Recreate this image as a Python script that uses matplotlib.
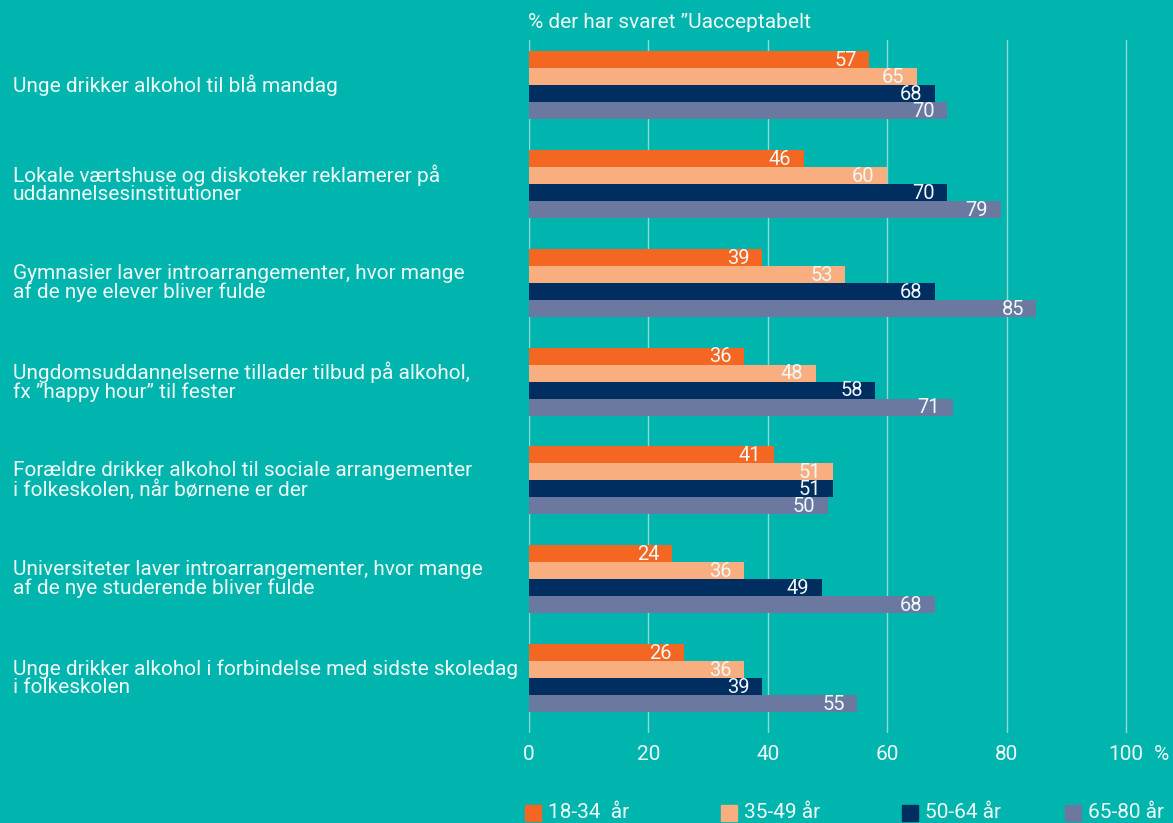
import matplotlib
matplotlib.use("Agg")
import matplotlib.pyplot as plt
import numpy as np
from matplotlib.patches import Rectangle
from matplotlib.transforms import blended_transform_factory

BG = "#00B5AD"
TXT = "#EEF8F7"
COLORS = ["#F46722", "#F9AE80", "#002E61", "#6B79A1"]

categories = [
    "Unge drikker alkohol til blå mandag",
    "Lokale værtshuse og diskoteker reklamerer på\nuddannelsesinstitutioner",
    "Gymnasier laver introarrangementer, hvor mange\naf de nye elever bliver fulde",
    "Ungdomsuddannelserne tillader tilbud på alkohol,\nfx ”happy hour” til fester",
    "Forældre drikker alkohol til sociale arrangementer\ni folkeskolen, når børnene er der",
    "Universiteter laver introarrangementer, hvor mange\naf de nye studerende bliver fulde",
    "Unge drikker alkohol i forbindelse med sidste skoledag\ni folkeskolen",
]
series = ["18-34  år", "35-49 år", "50-64 år", "65-80 år"]
v18_34 = [57, 46, 39, 36, 41, 24, 26]
v35_49 = [65, 60, 53, 48, 51, 36, 36]
v50_64 = [68, 70, 68, 58, 51, 49, 39]
v65_80 = [70, 79, 85, 71, 50, 68, 55]
values = [v18_34, v35_49, v50_64, v65_80]
ticks = [0, 20, 40, 60, 80, 100]

plt.rcParams["font.family"] = ["Roboto", "DejaVu Sans"]
FS = 15
FS_VAL = 14.5

W, H = 1173, 823
fig = plt.figure(figsize=(W / 100, H / 100), dpi=100, facecolor=BG)
# plot area: x=0 at 529 px, gridlines from 40 px to 733 px
ax = fig.add_axes([529 / W, 1 - 733 / H, (W - 529) / W, (733 - 40) / H])
ax.set_facecolor(BG)

h = 0.172
y = np.arange(len(categories))
for i, (name, vals) in enumerate(zip(series, values)):
    yy = y + (i - 1.5) * h
    ax.barh(yy, vals, height=h, color=COLORS[i], zorder=3)
    for yv, v in zip(yy, vals):
        ax.annotate(f"{v}", (v, yv), xytext=(-9, -0.5), textcoords="offset points",
                    ha="right", va="center", color=TXT, fontsize=FS_VAL, zorder=4)

ax.set_xlim(0, (W - 529) / 5.97)
ax.set_ylim(6.557, -0.46)
ax.set_xticks(ticks)
ax.set_xticklabels([str(t) for t in ticks], color=TXT, fontsize=FS)
ax.tick_params(axis="x", length=0, pad=9)
ax.set_yticks([])
ax.grid(axis="x", color="#8ED9D4", linewidth=1.0, zorder=0)
for s in ax.spines.values():
    s.set_visible(False)

# unit after the last tick
ax.annotate("%", (106, 0), xycoords=blended_transform_factory(ax.transData, ax.transAxes),
            xytext=(0, -9), textcoords="offset points", ha="center", va="top",
            color=TXT, fontsize=FS)

tr = blended_transform_factory(fig.transFigure, ax.transData)
for yi, lab in zip(y, categories):
    ax.text(13 / W, yi, lab, transform=tr, ha="left", va="center", color=TXT,
            fontsize=FS, linespacing=0.95)

fig.text(528 / W, 1 - 23 / H, "% der har svaret ”Uacceptabelt", ha="left", va="center",
         color=TXT, fontsize=FS)

# legend
sq_x = [525, 721, 902, 1065]
for i, name in enumerate(series):
    fig.patches.append(Rectangle((sq_x[i] / W, 1 - 821 / H), 16 / W, 16 / H,
                                 transform=fig.transFigure, color=COLORS[i]))
    fig.text((sq_x[i] + 23) / W, 1 - 813 / H, name, ha="left", va="center",
             color=TXT, fontsize=FS)

fig.savefig("out.png", dpi=100, facecolor=BG)
